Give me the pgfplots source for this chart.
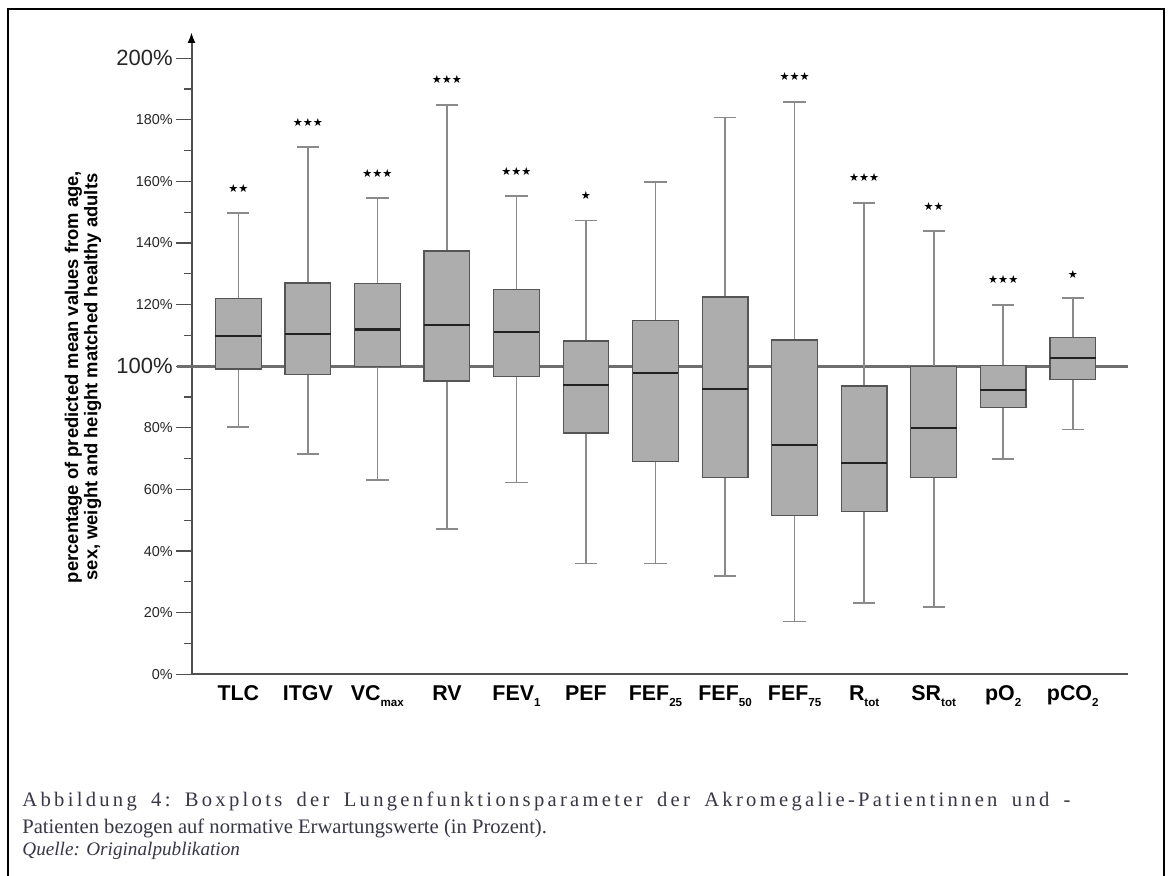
\documentclass[border=0pt]{standalone}
\usepackage{fontspec}
\setmainfont{Liberation Sans}
\newfontfamily\capfont{Liberation Serif}
\newfontfamily\capfontwide[LetterSpace=16]{Liberation Serif}
\newfontfamily\symfont{DejaVu Sans}
\usepackage{pgfplots}
\pgfplotsset{compat=1.18}
\usepgfplotslibrary{statistics}
\usetikzlibrary{arrows.meta}
\definecolor{boxfill}{RGB}{173,173,173}
\definecolor{boxdraw}{RGB}{85,85,85}
\definecolor{medcol}{RGB}{34,34,34}
\definecolor{whiskcol}{RGB}{138,138,138}
\definecolor{refcol}{RGB}{110,110,110}
\definecolor{axiscol}{RGB}{80,80,80}
\definecolor{captcol}{RGB}{55,55,70}
\newcommand{\sub}[1]{\raisebox{-3pt}{\fontsize{5.8}{6}\selectfont #1}}
\begin{document}
\begin{tikzpicture}
\useasboundingbox (0,0) rectangle (585.5pt,438pt);
\fill[white] (0,0) rectangle (585.5pt,438pt);
\draw[black, line width=0.6pt] (4pt,-5pt) rectangle (582pt,433.5pt);
\begin{axis}[
  scale only axis, width=468.1pt, height=321.15pt,
  at={(95.75pt,100.85pt)}, anchor=south west,
  xmin=-0.673, xmax=12.79, ymin=0, ymax=208.5,
  clip=false,
  axis x line*=bottom, axis y line*=left,
  x axis line style={draw=axiscol, line width=1pt},
  y axis line style={draw=axiscol, line width=1pt, -{Latex[length=5.5pt,width=4pt,color=black]}},
  tick align=outside,
  major tick length=7.5pt, minor tick length=4pt,
  ytick={0,20,...,200}, minor ytick={10,30,...,190},
  ytick style={draw=axiscol, line width=0.6pt},
  yticklabels={0\%,20\%,40\%,60\%,80\%,{\fontsize{11}{12}\selectfont 100\%},120\%,140\%,160\%,180\%,{\fontsize{11}{12}\selectfont 200\%}},
  yticklabel style={font=\fontsize{7.2}{8}\selectfont, text=black!85, inner sep=0pt, xshift=-1.75pt},
  xtick={0,...,12}, xtick style={draw=none},
  xticklabels={TLC, ITGV, VC\sub{max}, RV, FEV\sub{1}, PEF, FEF\sub{25}, FEF\sub{50}, FEF\sub{75}, R\sub{tot}, SR\sub{tot}, pO\sub{2}, pCO\sub{2}},
  xticklabel style={font=\bfseries\fontsize{10.7}{12}\selectfont, inner sep=0pt, anchor=north, yshift=2.15pt},
  boxplot/draw direction=y,
  boxplot/every box/.style={fill=boxfill, draw=boxdraw, line width=0.6pt},
  boxplot/every median/.style={draw=medcol, line width=1.1pt},
  boxplot/every whisker/.style={draw=whiskcol, line width=0.8pt},
]
\draw[refcol, line width=1.4pt] ([xshift=-7.5pt]axis cs:-0.673,100) -- (axis cs:12.79,100);
\addplot[boxplot prepared={draw position=0, lower whisker=80.2, lower quartile=99.1, median=109.9, upper quartile=122.1, upper whisker=149.7, box extend=0.657, whisker extend=0.32}] coordinates {};
\addplot[boxplot prepared={draw position=1, lower whisker=71.5, lower quartile=97.2, median=110.4, upper quartile=127.0, upper whisker=171.1, box extend=0.657, whisker extend=0.32}] coordinates {};
\addplot[boxplot prepared={draw position=2, lower whisker=63.0, lower quartile=100.0, median=111.9, upper quartile=126.9, upper whisker=154.6, box extend=0.657, whisker extend=0.32}] coordinates {};
\addplot[boxplot prepared={draw position=3, lower whisker=47.2, lower quartile=95.2, median=113.4, upper quartile=137.4, upper whisker=184.8, box extend=0.657, whisker extend=0.32}] coordinates {};
\addplot[boxplot prepared={draw position=4, lower whisker=62.2, lower quartile=96.6, median=111.2, upper quartile=125.0, upper whisker=155.2, box extend=0.657, whisker extend=0.32}] coordinates {};
\addplot[boxplot prepared={draw position=5, lower whisker=35.9, lower quartile=78.3, median=93.9, upper quartile=108.2, upper whisker=147.3, box extend=0.657, whisker extend=0.32}] coordinates {};
\addplot[boxplot prepared={draw position=6, lower whisker=36.0, lower quartile=69.0, median=97.8, upper quartile=114.9, upper whisker=159.9, box extend=0.657, whisker extend=0.32}] coordinates {};
\addplot[boxplot prepared={draw position=7, lower whisker=31.9, lower quartile=64.0, median=92.5, upper quartile=122.5, upper whisker=180.8, box extend=0.657, whisker extend=0.32}] coordinates {};
\addplot[boxplot prepared={draw position=8, lower whisker=17.1, lower quartile=51.5, median=74.4, upper quartile=108.5, upper whisker=185.8, box extend=0.657, whisker extend=0.32}] coordinates {};
\addplot[boxplot prepared={draw position=9, lower whisker=23.1, lower quartile=52.8, median=68.7, upper quartile=93.6, upper whisker=153.0, box extend=0.657, whisker extend=0.32}] coordinates {};
\addplot[boxplot prepared={draw position=10, lower whisker=21.8, lower quartile=63.8, median=79.9, upper quartile=99.9, upper whisker=143.8, box extend=0.657, whisker extend=0.32}] coordinates {};
\addplot[boxplot prepared={draw position=11, lower whisker=69.9, lower quartile=86.7, median=92.3, upper quartile=100.2, upper whisker=119.8, box extend=0.657, whisker extend=0.32}] coordinates {};
\addplot[boxplot prepared={draw position=12, lower whisker=79.4, lower quartile=95.7, median=102.8, upper quartile=109.3, upper whisker=122.1, box extend=0.657, whisker extend=0.32}] coordinates {};
\begin{scope}[every node/.style={font=\symfont\fontsize{5.6}{6}\selectfont, inner sep=0pt}]
\node at (axis cs:0,157.8) {★★};
\node at (axis cs:1,179.1) {★★★};
\node at (axis cs:2,162.7) {★★★};
\node at (axis cs:3,193.0) {★★★};
\node at (axis cs:4,163.2) {★★★};
\node at (axis cs:5,155.4) {★};
\node at (axis cs:8,194.0) {★★★};
\node at (axis cs:9,161.2) {★★★};
\node at (axis cs:10,151.8) {★★};
\node at (axis cs:11,128.0) {★★★};
\node at (axis cs:12,129.9) {★};
\end{scope}
\end{axis}
\node[rotate=90, align=center, font=\bfseries\fontsize{9.2}{8.5}\selectfont, inner sep=0pt] at (41.5pt,249.5pt) {percentage of predicted mean values from age,\\ sex, weight and height matched healthy adults};
\node[anchor=base west, inner sep=0pt, text=captcol, font=\capfontwide\fontsize{10.3}{12}\selectfont] at (11pt,34.5pt) {\frenchspacing\makebox[524pt][s]{Abbildung 4: Boxplots der Lungenfunktionsparameter der Akromegalie-Patientinnen und -}};
\node[anchor=base west, inner sep=0pt, text=captcol, font=\capfont\fontsize{10.3}{12}\selectfont] at (11pt,21pt) {Patienten bezogen auf normative Erwartungswerte (in Prozent).};
\node[anchor=base west, inner sep=0pt, text=captcol, font=\capfont\itshape\fontsize{9.6}{10}\selectfont] at (11pt,10pt) {Quelle: Originalpublikation};
\end{tikzpicture}
\end{document}
